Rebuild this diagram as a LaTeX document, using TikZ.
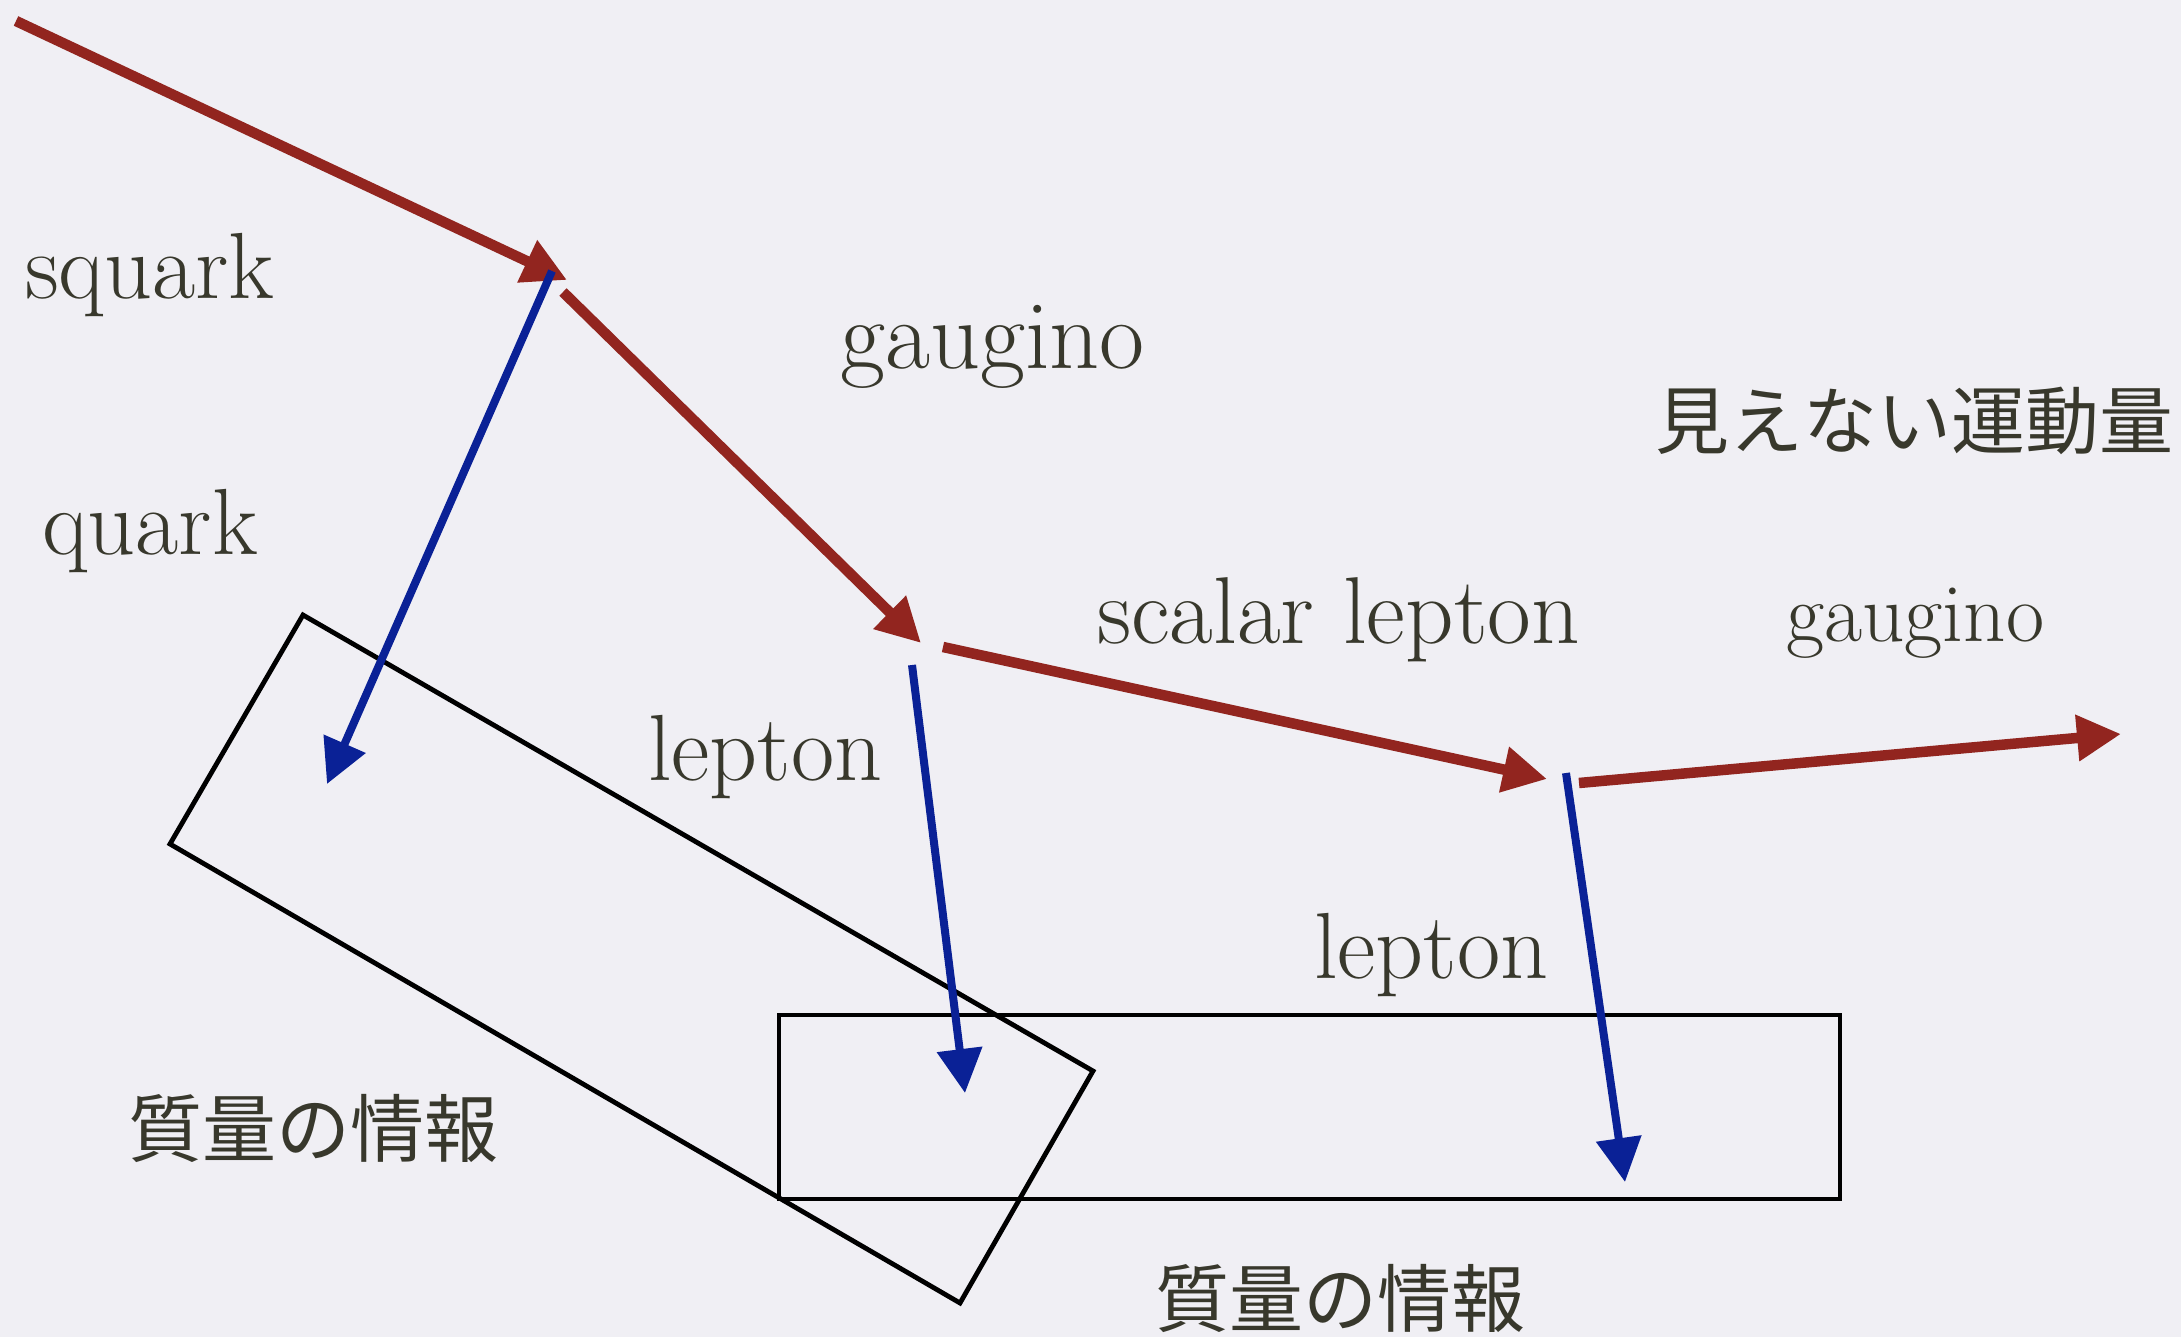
\documentclass[tikz,border=0pt]{standalone}
\usepackage{fontspec}
\newfontfamily\cjk{Noto Sans CJK JP}
\usetikzlibrary{arrows.meta}
\definecolor{bg}{RGB}{240,239,244}
\definecolor{pred}{RGB}{146,37,31}
\definecolor{pblue}{RGB}{10,33,150}
\definecolor{ink}{RGB}{56,56,44}
\tikzset{
  redarrow/.style={draw=pred, line width=10.5pt, -{Triangle[length=44pt,width=44pt]}},
  bluearrow/.style={draw=pblue, line width=8pt, -{Triangle[length=44pt,width=44pt]}},
  boxline/.style={draw=black, line width=4.8pt, line join=miter},
  lbl/.style={text=ink, inner sep=0pt, anchor=base west, font=\fontsize{94}{110}\selectfont},
  jlbl/.style={text=ink, inner sep=0pt, anchor=west, font=\cjk\fontsize{74}{80}\selectfont},
}
\begin{document}
\begin{tikzpicture}[x=1pt,y=-1pt]
\fill[bg] (0,0) rectangle (2181,1337);
\useasboundingbox (0,0) rectangle (2181,1337);

% vertices
\coordinate (r0) at (16,21);
\coordinate (n1) at (567,280);
\coordinate (b1s) at (552,271);
\coordinate (b1e) at (327,784);
\coordinate (r2s) at (563,292);
\coordinate (n2) at (921,643);
\coordinate (b2s) at (912,665);
\coordinate (b2e) at (965,1093);
\coordinate (r3s) at (943,647);
\coordinate (n3) at (1547,779);
\coordinate (b3s) at (1566,773);
\coordinate (b3e) at (1625,1182);
\coordinate (r4s) at (1579,783);
\coordinate (r4e) at (2121,734);

% boxes
\coordinate (pa) at (303,615);
\coordinate (pb) at (1093,1071);
\coordinate (pc) at (960,1303);
\coordinate (pd) at (170,844);
\draw[boxline] (pa) -- (pb) -- (pc) -- (pd) -- cycle;
\coordinate (qa) at (779,1015);
\coordinate (qc) at (1840,1199);
\draw[boxline] (qa) rectangle (qc);

% arrows
\draw[redarrow] (r0) -- (n1);
\draw[bluearrow] (b1s) -- (b1e);
\draw[redarrow] (r2s) -- (n2);
\draw[bluearrow] (b2s) -- (b2e);
\draw[redarrow] (r3s) -- (n3);
\draw[bluearrow] (b3s) -- (b3e);
\draw[redarrow] (r4s) -- (r4e);

% labels
\node[lbl] (tsquark) at (25,299) {squark};
\node[lbl] (tquark) at (42,554) {quark};
\node[lbl, font=\fontsize{98}{110}\selectfont] (tgaug1) at (840,368) {gaugino};
\node[lbl, font=\fontsize{95}{110}\selectfont] (tscal) at (1097,643) {scalar lepton};
\node[lbl, font=\fontsize{83}{95}\selectfont] (tgaug2) at (1786,641) {gaugino};
\node[lbl] (tlep1) at (648,780) {lepton};
\node[lbl] (tlep2) at (1314,978) {lepton};
\node[jlbl] (tinv) at (1655,421) {見えない運動量};
\node[jlbl] (tmass1) at (128,1128) {質量の情報};
\node[jlbl] (tmass2) at (1155,1298) {質量の情報};
\end{tikzpicture}
\end{document}
